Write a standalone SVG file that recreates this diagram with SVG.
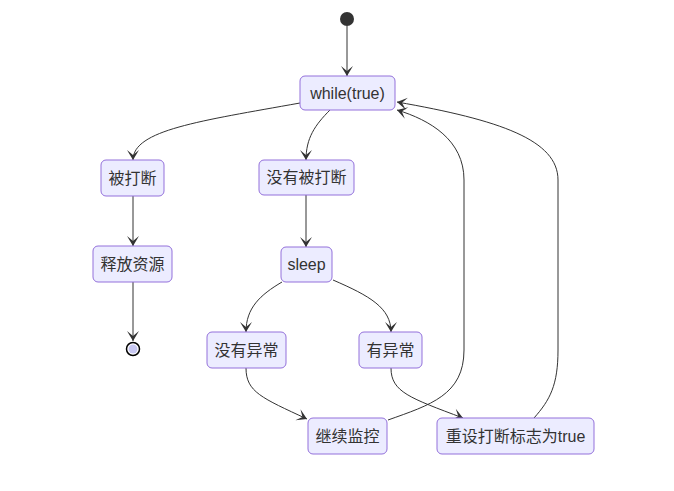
<svg xmlns="http://www.w3.org/2000/svg" width="674" height="491" viewBox="0 0 674 491">
<defs>
<style>
.node rect{fill:#ECECFF;stroke:#9370DB;stroke-width:1;}
.node text{font-family:"Liberation Sans","Noto Sans CJK SC",sans-serif;font-size:16px;fill:#333;text-anchor:middle;dominant-baseline:central;}
.edge{fill:none;stroke:#333;stroke-width:1;marker-end:url(#barb);}
</style>
<marker id="barb" viewBox="0 0 20 14" refX="19" refY="7" markerWidth="20" markerHeight="14" markerUnits="userSpaceOnUse" orient="auto">
<path d="M19,7 L9,13 L14,7 L9,1 Z" fill="#333"/>
</marker>
</defs>
<rect width="674" height="491" fill="#fff"/>
<g id="connectors">
<path class="edge" d="M347,26 L347,76"/>
<path class="edge" d="M300,103 C200,121 133,130 133,160"/>
<path class="edge" d="M330,110 C315,125 306,138 306,160"/>
<path class="edge" d="M133,196 L133,246"/>
<path class="edge" d="M133,282 L133,341"/>
<path class="edge" d="M306,195 L306,247"/>
<path class="edge" d="M282,282 C260,295 246,308 246,332"/>
<path class="edge" d="M333,280 C370,296 391,308 391,332"/>
<path class="edge" d="M246,368 C246,392 262,398 307,419"/>
<path class="edge" d="M391,368 C391,392 410,398 463,418"/>
<path class="edge" d="M388,420 C430,405 464,395 464,350 L464,180 C464,140 430,120 397,110"/>
<path class="edge" d="M534,418 C550,400 558,385 558,350 L558,180 C558,140 500,120 397,102"/>
</g>
<g id="start"><circle cx="347" cy="19" r="7" fill="#333"/></g>
<g id="while" class="node"><rect x="300" y="76" width="95" height="34" rx="5"/><text x="347.5" y="93">while(true)</text></g>
<g id="interrupted" class="node"><rect x="101" y="160" width="63" height="36" rx="5"/><text x="132.5" y="178">被打断</text></g>
<g id="release" class="node"><rect x="93" y="246" width="79" height="36" rx="5"/><text x="132.5" y="264">释放资源</text></g>
<g id="end"><circle cx="133" cy="349" r="6.5" fill="#fff" stroke="#000" stroke-width="1.5"/><circle cx="133" cy="349" r="4.5" fill="#c8c8f2"/></g>
<g id="notInterrupted" class="node"><rect x="259" y="160" width="95" height="35" rx="5"/><text x="306.5" y="177.5">没有被打断</text></g>
<g id="sleep" class="node"><rect x="281" y="247" width="51" height="35" rx="5"/><text x="306.5" y="264.5">sleep</text></g>
<g id="noException" class="node"><rect x="207" y="332" width="79" height="36" rx="5"/><text x="246.5" y="350">没有异常</text></g>
<g id="exception" class="node"><rect x="359" y="332" width="63" height="36" rx="5"/><text x="390.5" y="350">有异常</text></g>
<g id="continue" class="node"><rect x="308" y="418" width="79" height="36" rx="5"/><text x="347.5" y="436">继续监控</text></g>
<g id="reset" class="node"><rect x="437" y="418" width="157" height="36" rx="5"/><text x="515.5" y="436">重设打断标志为true</text></g>
</svg>
